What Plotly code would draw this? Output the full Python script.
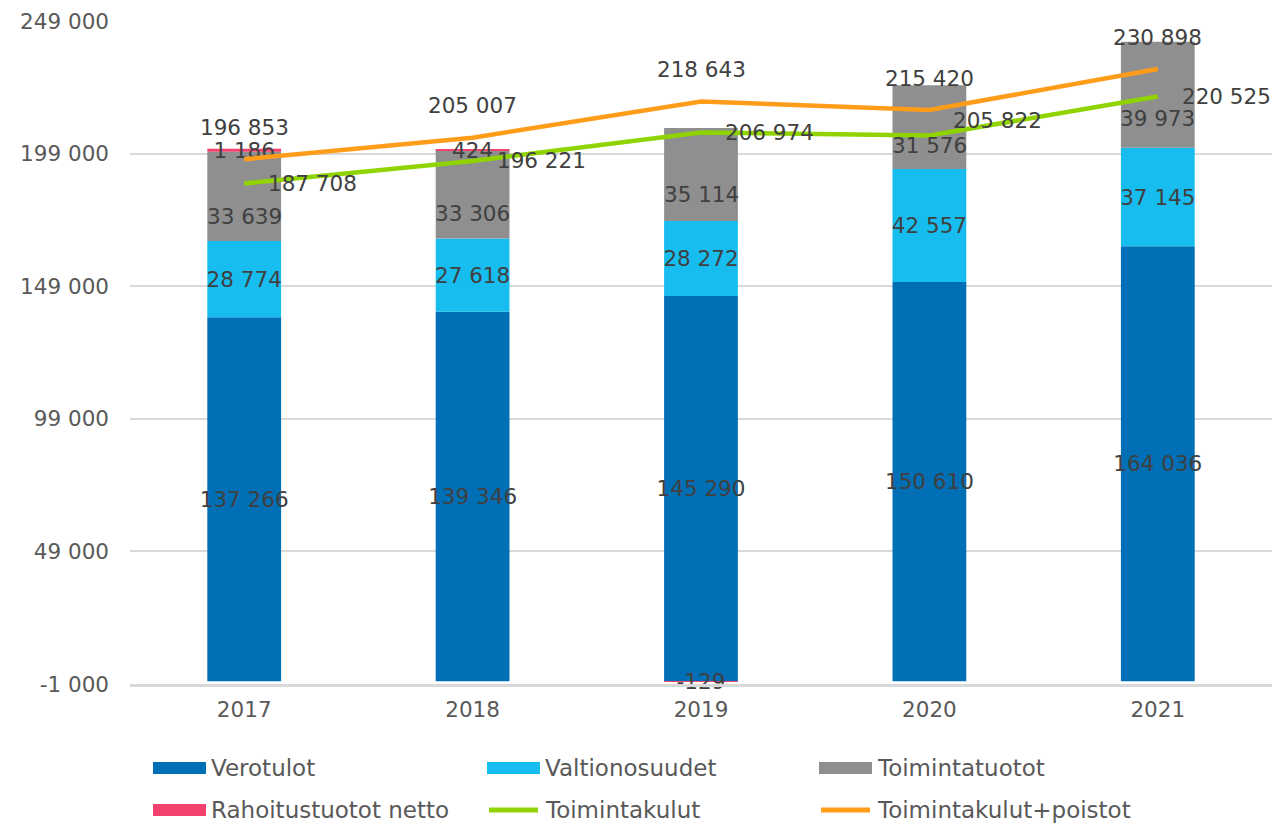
import plotly.graph_objects as go

# ---- data ----
years = ["2017", "2018", "2019", "2020", "2021"]
verotulot = [137266, 139346, 145290, 150610, 164036]
valtionosuudet = [28774, 27618, 28272, 42557, 37145]
toimintatuotot = [33639, 33306, 35114, 31576, 39973]
rahoitustuotot_netto = [1186, 424, -129, None, None]
toimintakulut = [187708, 196221, 206974, 205822, 220525]
toimintakulut_poistot = [196853, 205007, 218643, 215420, 230898]
y_tick_values = [-1000, 49000, 99000, 149000, 199000, 249000]

names = ["Verotulot", "Valtionosuudet", "Toimintatuotot",
         "Rahoitustuotot netto", "Toimintakulut", "Toimintakulut+poistot"]
colors = ["#006FB6", "#16BDEE", "#8F8F8F", "#F2426E", "#8FD400", "#FF9C1A"]

# label placement tweaks (pixels) for the Toimintakulut labels
green_label_yshift = [0, 0, 0, 15, 0]

FONT = "DejaVu Sans"
TXT = "#404040"
AX = "#595959"
FS = 21.5
LEG_FS = 23

# the page body has an 8px margin: work in screen pixels, subtract it
OFF = 8
W, H = 1286 - OFF, 825 - OFF
PLOT_L, PLOT_R, PLOT_T, PLOT_B = 130, 1272, 21, 684   # screen px
ML, MT = PLOT_L - OFF, PLOT_T - OFF
MR, MB = W - (PLOT_R - OFF), H - (PLOT_B - OFF)
PW, PH = PLOT_R - PLOT_L, PLOT_B - PLOT_T


def fmt(v):
    return "" if v is None else f"{v:,}".replace(",", " ")


def px_x(px):
    return (px - PLOT_L) / PW


def px_y(py):
    return (PLOT_B - py) / PH


fig = go.Figure()

bar_series = [verotulot, valtionosuudet, toimintatuotot, rahoitustuotot_netto]
for i, vals in enumerate(bar_series):
    show_text = i != 2  # grey segment labels are placed separately (lower)
    fig.add_trace(go.Bar(
        x=years, y=vals, name=names[i], marker_color=colors[i],
        marker_line_width=0,
        text=[fmt(v) for v in vals] if show_text else None,
        textposition="inside",
        insidetextanchor="middle", textangle=0, constraintext="none",
        insidetextfont=dict(family=FONT, size=FS, color=TXT),
        cliponaxis=False, showlegend=False,
    ))

for vals, col, nm in [(toimintakulut, colors[4], names[4]),
                      (toimintakulut_poistot, colors[5], names[5])]:
    fig.add_trace(go.Scatter(
        x=years, y=vals, mode="lines", name=nm,
        line=dict(color=col, width=4.5), showlegend=False, cliponaxis=False,
    ))

annotations = []
# Toimintatuotot labels sit in the lower part of their segment
for idx, v in enumerate(toimintatuotot):
    base = verotulot[idx] + valtionosuudet[idx]
    annotations.append(dict(x=idx, y=base + v * 0.28, xref="x", yref="y",
                            text=fmt(v), showarrow=False,
                            xanchor="center", yanchor="middle",
                            font=dict(family=FONT, size=FS, color=TXT)))
for idx, v in enumerate(toimintakulut_poistot):
    annotations.append(dict(x=idx, y=v, xref="x", yref="y", text=fmt(v),
                            showarrow=False, yshift=32, xanchor="center",
                            yanchor="middle",
                            font=dict(family=FONT, size=FS, color=TXT)))
for idx, v in enumerate(toimintakulut):
    annotations.append(dict(x=idx, y=v, xref="x", yref="y", text=fmt(v),
                            showarrow=False, xshift=22,
                            yshift=green_label_yshift[idx], xanchor="left",
                            yanchor="middle",
                            font=dict(family=FONT, size=FS, color=TXT)))

# manual legend (3 columns x 2 rows), screen px positions
shapes = []
col_x = [153, 487, 819]
row_y = [768, 810]
for i, nm in enumerate(names):
    cx = col_x[i % 3]
    cy = row_y[i // 3]
    if i < 4:
        shapes.append(dict(type="rect", xref="paper", yref="paper",
                           x0=px_x(cx), x1=px_x(cx + 53),
                           y0=px_y(cy + 6), y1=px_y(cy - 6),
                           fillcolor=colors[i], line_width=0))
    else:
        shapes.append(dict(type="line", xref="paper", yref="paper",
                           x0=px_x(cx + 2), x1=px_x(cx + 51),
                           y0=px_y(cy), y1=px_y(cy),
                           line=dict(color=colors[i], width=5)))
    annotations.append(dict(x=px_x(cx + 56), y=px_y(cy), xref="paper",
                            yref="paper", text=nm, showarrow=False,
                            xanchor="left", yanchor="middle",
                            font=dict(family=FONT, size=LEG_FS, color=AX)))

fig.update_layout(
    width=W, height=H,
    margin=dict(l=ML, r=MR, t=MT, b=MB, autoexpand=False),
    paper_bgcolor="white", plot_bgcolor="white",
    barmode="relative", bargap=0.677,
    font=dict(family=FONT, size=FS, color=AX),
    showlegend=False,
    annotations=annotations, shapes=shapes,
    xaxis=dict(type="category", range=[-0.5, len(years) - 0.5],
               automargin=False,
               showgrid=False, ticks="", ticklabelstandoff=4,
               showline=True, linecolor="#D9D9D9", linewidth=3,
               tickfont=dict(family=FONT, size=FS, color=AX)),
    yaxis=dict(range=[-1000, 249000], tickvals=y_tick_values,
               ticktext=[fmt(v) for v in y_tick_values],
               automargin=False,
               showgrid=True, gridcolor="#D9D9D9", gridwidth=1.5,
               zeroline=False, ticks="", ticklabelstandoff=20,
               tickfont=dict(family=FONT, size=FS, color=AX)),
)

fig.write_html("out.html")
